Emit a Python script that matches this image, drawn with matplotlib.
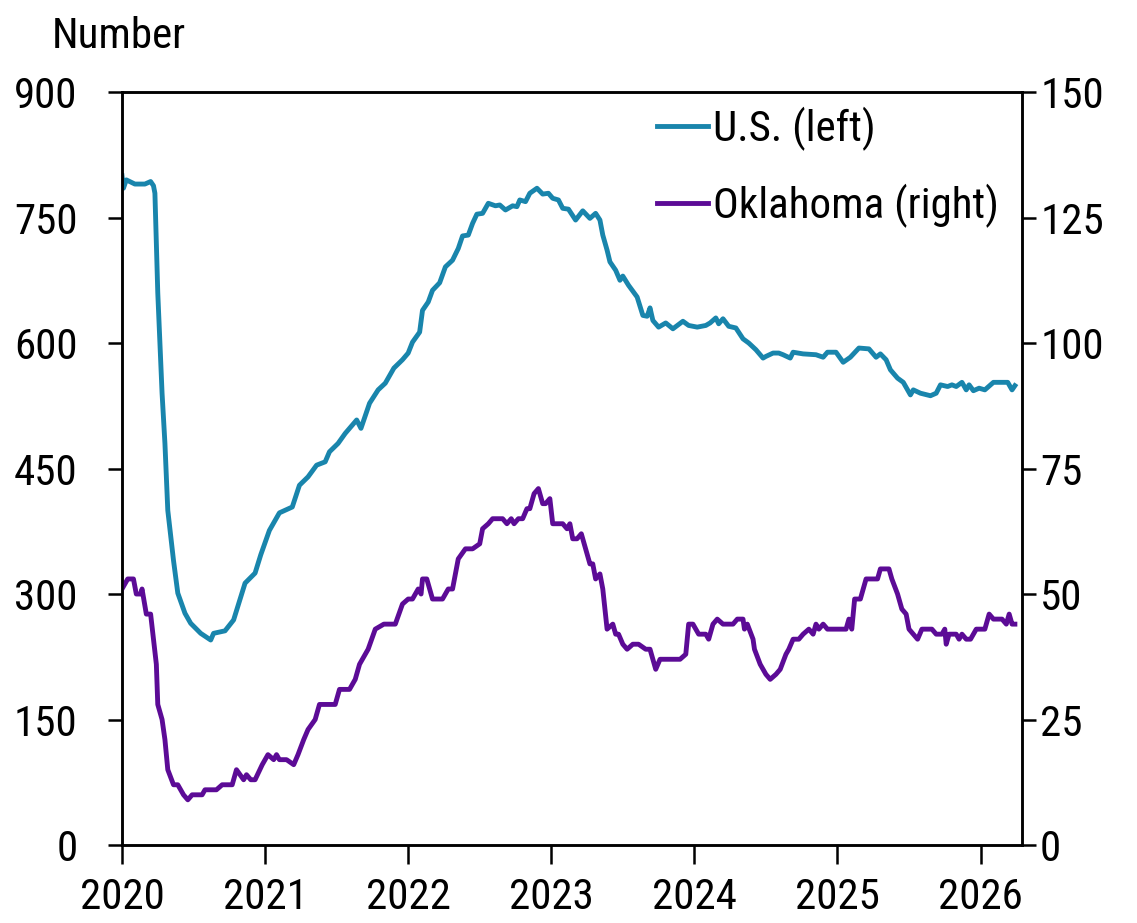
"""Rig counts: U.S. (left axis) vs Oklahoma (right axis), weekly."""

import matplotlib
matplotlib.use("Agg")
import matplotlib.pyplot as plt

# ---- data (decimal years) ----
US_YEARS = [
    2020.00, 2020.01, 2020.03, 2020.09, 2020.16, 2020.20, 2020.22, 2020.23, 2020.25, 2020.28,
    2020.30, 2020.32, 2020.36, 2020.39, 2020.44, 2020.48, 2020.55, 2020.62, 2020.64, 2020.72,
    2020.78, 2020.86, 2020.93, 2020.97, 2021.03, 2021.10, 2021.19, 2021.24, 2021.30, 2021.36,
    2021.42, 2021.45, 2021.51, 2021.56, 2021.61, 2021.64, 2021.67, 2021.73, 2021.79, 2021.84,
    2021.90, 2021.96, 2022.00, 2022.03, 2022.08, 2022.10, 2022.14, 2022.17, 2022.22, 2022.26,
    2022.31, 2022.35, 2022.38, 2022.42, 2022.45, 2022.48, 2022.52, 2022.56, 2022.61, 2022.64,
    2022.68, 2022.73, 2022.76, 2022.78, 2022.82, 2022.85, 2022.90, 2022.94, 2022.98, 2023.01,
    2023.05, 2023.08, 2023.12, 2023.17, 2023.22, 2023.27, 2023.31, 2023.34, 2023.36, 2023.39,
    2023.41, 2023.45, 2023.48, 2023.50, 2023.54, 2023.60, 2023.64, 2023.67, 2023.69, 2023.71,
    2023.75, 2023.80, 2023.85, 2023.92, 2023.96, 2024.02, 2024.08, 2024.11, 2024.15, 2024.17,
    2024.20, 2024.24, 2024.29, 2024.34, 2024.38, 2024.43, 2024.48, 2024.50, 2024.55, 2024.59,
    2024.62, 2024.67, 2024.69, 2024.76, 2024.85, 2024.90, 2024.93, 2024.99, 2025.04, 2025.09,
    2025.15, 2025.22, 2025.27, 2025.30, 2025.34, 2025.37, 2025.42, 2025.46, 2025.51, 2025.53,
    2025.58, 2025.65, 2025.69, 2025.72, 2025.77, 2025.80, 2025.83, 2025.87, 2025.90, 2025.92,
    2025.95, 2025.99, 2026.03, 2026.09, 2026.15, 2026.19, 2026.22, 2026.24,
]
US_RIGS = [
    800, 785, 795, 790, 790, 793, 788, 779, 660, 540,
    480, 400, 340, 301, 277, 265, 253, 245, 253, 256,
    269, 313, 325, 347, 376, 397, 404, 430, 440, 454,
    458, 470, 480, 492, 502, 508, 498, 528, 544, 552,
    570, 580, 588, 601, 613, 639, 649, 663, 672, 691,
    699, 713, 728, 729, 743, 754, 755, 767, 764, 765,
    759, 764, 763, 771, 769, 779, 785, 778, 779, 773,
    771, 761, 760, 747, 758, 749, 755, 747, 729, 711,
    697, 687, 675, 680, 669, 655, 633, 632, 642, 627,
    619, 624, 617, 626, 621, 619, 621, 624, 630, 623,
    629, 620, 618, 605, 600, 592, 582, 584, 588, 588,
    586, 582, 589, 587, 586, 583, 589, 589, 577, 583,
    594, 593, 583, 587, 580, 568, 558, 553, 538, 544,
    540, 537, 540, 550, 548, 550, 548, 553, 544, 550,
    543, 546, 544, 553, 553, 553, 544, 549,
]

OK_YEARS = [
    2020.00, 2020.04, 2020.08, 2020.10, 2020.13, 2020.14, 2020.17, 2020.20, 2020.22, 2020.24,
    2020.25, 2020.28, 2020.30, 2020.32, 2020.36, 2020.39, 2020.43, 2020.46, 2020.49, 2020.56,
    2020.58, 2020.66, 2020.70, 2020.77, 2020.80, 2020.85, 2020.87, 2020.90, 2020.93, 2020.98,
    2021.02, 2021.06, 2021.08, 2021.10, 2021.15, 2021.20, 2021.23, 2021.27, 2021.30, 2021.35,
    2021.38, 2021.49, 2021.52, 2021.59, 2021.63, 2021.66, 2021.72, 2021.77, 2021.83, 2021.91,
    2021.96, 2022.00, 2022.03, 2022.07, 2022.09, 2022.10, 2022.13, 2022.17, 2022.24, 2022.28,
    2022.31, 2022.35, 2022.40, 2022.45, 2022.50, 2022.52, 2022.56, 2022.59, 2022.66, 2022.69,
    2022.72, 2022.74, 2022.77, 2022.80, 2022.83, 2022.85, 2022.88, 2022.91, 2022.94, 2022.96,
    2022.99, 2023.01, 2023.08, 2023.11, 2023.13, 2023.15, 2023.18, 2023.21, 2023.24, 2023.27,
    2023.29, 2023.31, 2023.34, 2023.36, 2023.39, 2023.43, 2023.45, 2023.47, 2023.50, 2023.53,
    2023.57, 2023.61, 2023.66, 2023.69, 2023.73, 2023.76, 2023.83, 2023.90, 2023.94, 2023.96,
    2023.99, 2024.03, 2024.08, 2024.10, 2024.13, 2024.16, 2024.20, 2024.27, 2024.30, 2024.34,
    2024.35, 2024.37, 2024.41, 2024.42, 2024.46, 2024.50, 2024.53, 2024.57, 2024.60, 2024.64,
    2024.66, 2024.69, 2024.73, 2024.76, 2024.80, 2024.83, 2024.85, 2024.87, 2024.90, 2024.93,
    2025.06, 2025.08, 2025.10, 2025.12, 2025.16, 2025.20, 2025.28, 2025.30, 2025.36, 2025.38,
    2025.42, 2025.45, 2025.48, 2025.50, 2025.53, 2025.56, 2025.59, 2025.66, 2025.69, 2025.73,
    2025.75, 2025.76, 2025.78, 2025.83, 2025.85, 2025.87, 2025.90, 2025.93, 2025.97, 2026.03,
    2026.06, 2026.09, 2026.15, 2026.18, 2026.20, 2026.22, 2026.24,
]
OK_RIGS = [
    51, 53, 53, 50, 50, 51, 46, 46, 41, 36,
    28, 25, 21, 15, 12, 12, 10, 9, 10, 10,
    11, 11, 12, 12, 15, 13, 14, 13, 13, 16,
    18, 17, 18, 17, 17, 16, 18, 21, 23, 25,
    28, 28, 31, 31, 33, 36, 39, 43, 44, 44,
    48, 49, 49, 51, 50, 53, 53, 49, 49, 51,
    51, 57, 59, 59, 60, 63, 64, 65, 65, 64,
    65, 64, 65, 65, 67, 67, 70, 71, 68, 68,
    69, 64, 64, 63, 64, 61, 61, 62, 59, 56,
    56, 53, 54, 51, 43, 44, 42, 42, 40, 39,
    40, 40, 39, 39, 35, 37, 37, 37, 38, 44,
    44, 42, 42, 41, 44, 45, 44, 44, 45, 45,
    43, 44, 41, 39, 36, 34, 33, 34, 35, 38,
    39, 41, 41, 42, 43, 42, 44, 43, 44, 43,
    43, 45, 43, 49, 49, 53, 53, 55, 55, 53,
    50, 47, 46, 43, 42, 41, 43, 43, 42, 42,
    43, 40, 42, 42, 41, 42, 41, 41, 43, 43,
    46, 45, 45, 44, 46, 44, 44,
]

LEFT_TICKS = [0, 150, 300, 450, 600, 750, 900]
RIGHT_TICKS = [0, 25, 50, 75, 100, 125, 150]
YEAR_TICKS = [2020, 2021, 2022, 2023, 2024, 2025, 2026]

US_COLOR = "#1985ac"
OK_COLOR = "#5c0b96"
FS = 31

plt.rcParams["font.family"] = ["Roboto Condensed", "Liberation Sans", "DejaVu Sans"]


def build_chart():
    fig = plt.figure(figsize=(11.37, 9.23), dpi=100)
    ax = fig.add_axes([0.1073, 0.0845, 0.7916, 0.8158])
    ax2 = ax.twinx()

    l1, = ax.plot(US_YEARS, US_RIGS, color=US_COLOR, lw=3.5, label="U.S. (left)")
    l2, = ax2.plot(OK_YEARS, OK_RIGS, color=OK_COLOR, lw=3.5, label="Oklahoma (right)")

    ax.set_xlim(2020, 2026.29)
    ax.set_ylim(0, 900)
    ax2.set_ylim(0, 150)
    ax.set_xticks(YEAR_TICKS)
    ax.set_xticklabels([str(y) for y in YEAR_TICKS])
    ax.set_yticks(LEFT_TICKS)
    ax2.set_yticks(RIGHT_TICKS)

    for a in (ax, ax2):
        for s in a.spines.values():
            s.set_linewidth(1.8)
    ax.tick_params(axis="y", direction="out", length=10, width=1.8, labelsize=FS, pad=22)
    ax.tick_params(axis="x", direction="out", length=14, width=1.8, labelsize=FS, pad=9)
    ax2.tick_params(axis="y", direction="out", length=10, width=1.8, labelsize=FS, pad=3)

    fig.text(52 / 1137, 1 - 48 / 923, "Number", fontsize=FS, ha="left", va="baseline")

    ax.legend(
        [l1, l2], ["U.S. (left)", "Oklahoma (right)"],
        loc="upper left", bbox_to_anchor=(0.594, 0.98),
        frameon=False, fontsize=FS, handlelength=1.2, handletextpad=0.12,
        labelspacing=0.75, borderpad=0, borderaxespad=0,
    )

    fig.savefig("out.png", dpi=100)


if __name__ == "__main__":
    build_chart()
